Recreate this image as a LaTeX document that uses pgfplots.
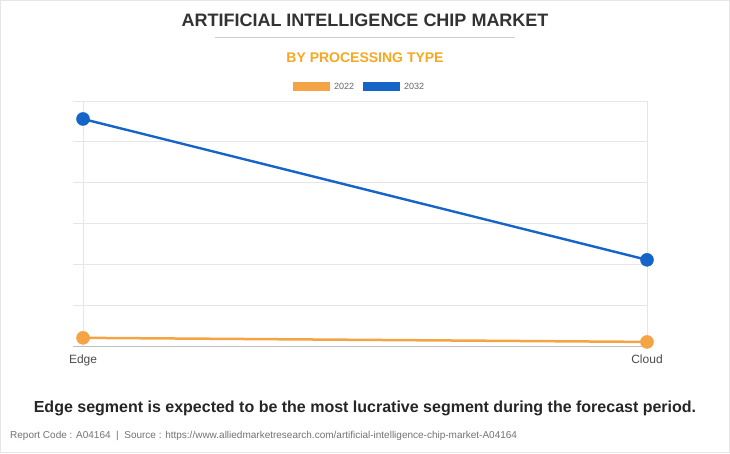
\documentclass[border=0pt]{standalone}
\usepackage{fontspec}
\setmainfont{Liberation Sans}
\usepackage{pgfplots}
\pgfplotsset{compat=1.18}
\definecolor{cOrange}{HTML}{F5A445}
\definecolor{cBlue}{HTML}{1565C8}
\definecolor{cTitle}{HTML}{333333}
\definecolor{cSub}{HTML}{F7A823}
\definecolor{cGrid}{HTML}{E6E6E6}
\begin{document}
\begin{tikzpicture}[x=1pt,y=1pt]
\fill[white] (0,0) rectangle (730,453);
\draw[cGrid,line width=1pt] (0.5,0.5) rectangle (729.5,452.5);
\node[font=\fontsize{18}{21}\selectfont\bfseries,text=cTitle] at (365,433) {ARTIFICIAL INTELLIGENCE CHIP MARKET};
\draw[black!20,line width=0.8pt] (215,416) -- (515,416);
\node[font=\fontsize{14}{16}\selectfont\bfseries,text=cSub] at (365,395) {BY PROCESSING TYPE};
\fill[cOrange] (293,362) rectangle (330,371);
\node[anchor=west,font=\fontsize{9}{11}\selectfont,text=black!60,inner sep=0pt] at (334,366.5) {2022};
\fill[cBlue] (363,362) rectangle (400,371);
\node[anchor=west,font=\fontsize{9}{11}\selectfont,text=black!60,inner sep=0pt] at (404,366.5) {2032};
\begin{axis}[
  at={(73pt,107pt)}, anchor=south west,
  scale only axis, width=574pt, height=245pt,
  xmin=-0.0178, xmax=1, ymin=0, ymax=6,
  xtick={0,1}, xticklabels={Edge,Cloud},
  ytick={0,1,2,3,4,5,6}, yticklabels={},
  ymajorgrids, xmajorgrids,
  grid style={cGrid,line width=0.8pt},
  axis line style={draw=none},
  major tick length=0pt,
  x tick label style={font=\fontsize{12}{14}\selectfont,text=black!70,yshift=-5pt},
  clip=false,
]
\draw[black!25,line width=1pt] (axis cs:-0.0178,0) -- (axis cs:1,0);
\addplot[cOrange,line width=2.5pt,mark=*,mark size=6.5pt,mark options={fill=cOrange,draw=cOrange,line width=0.5pt}] coordinates {(0,0.20) (1,0.10)};
\addplot[cBlue,line width=2.4pt,mark=*,mark size=6.5pt,mark options={fill=cBlue,draw=cBlue,line width=0.5pt}] coordinates {(0,5.56) (1,2.11)};
\end{axis}
\node[font=\fontsize{16}{19}\selectfont\bfseries,text=black!85] at (365,45) {Edge segment is expected to be the most lucrative segment during the forecast period.};
\node[anchor=west,font=\fontsize{10}{12}\selectfont,text=black!55,inner sep=0pt] at (10,17) {Report Code : A04164~~|~~Source : https://www.alliedmarketresearch.com/artificial-intelligence-chip-market-A04164};
\end{tikzpicture}
\end{document}
